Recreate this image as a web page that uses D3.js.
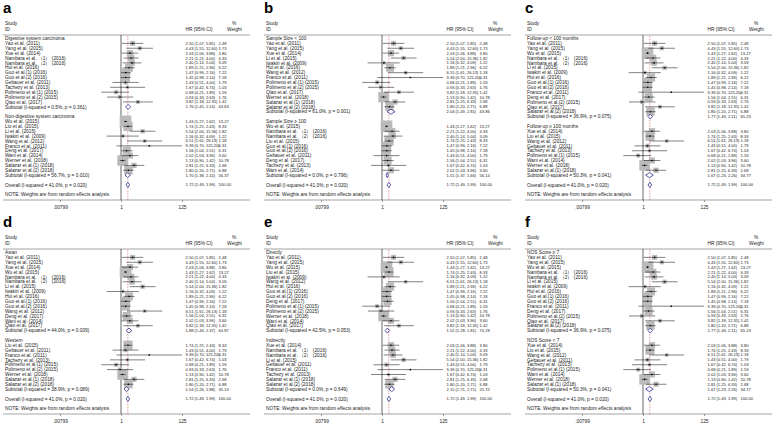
<!DOCTYPE html>
<html>
<head>
<meta charset="utf-8">
<script src="https://cdn.jsdelivr.net/npm/d3@7"></script>
<style>
  body { margin: 0; background: #fff; }
  svg { display: block; }
  text { font-family: "Liberation Sans", Arial, sans-serif; }
</style>
</head>
<body>
<script>
// study level data (same estimates appear in every panel)
const studyNames = [
  "Yao et al. (2011)", "Yang et al. (2015)", "Xue et al. (2014)",
  "Nambara et al. （1） (2016)", "Nambara et al. （2） (2016)", "Hui et al. (2016)",
  "Guo et al.(1) (2016)", "Guo et al.(2) (2016)", "Gebauer et al. (2011)",
  "Tachezy et al. (2013)", "Polimeno et al.(1) (2015)", "Polimeno et al.(2) (2015)",
  "Qiao et al. (2017)", "Wu et al. (2015)", "Liu et al. (2015)", "Li et al. (2015)",
  "Iwakiri et al. (2009)", "Wang et al. (2012)", "Franco et al. (2011)",
  "Deng et al. (2017)", "Wani et al. (2014)", "Werner et al. (2018)",
  "Salazar et al.(1) (2018)", "Salazar et al.(2) (2018)"
];
const hrVal  = [2.50, 4.43, 2.03, 2.21, 2.40, 1.89, 1.47, 1.45, 1.43, 1.67, 0.68, 0.93,
                3.82, 1.43, 1.74, 5.54, 1.16, 6.51, 9.39, 1.56, 2.02, 1.13, 2.81, 1.80];
const ciLow  = [1.07, 1.55, 1.06, 1.22, 1.14, 1.21, 0.99, 0.98, 0.51, 0.42, 0.21, 0.33,
                1.18, 1.27, 1.25, 2.00, 0.32, 1.61, 0.70, 1.04, 1.03, 0.90, 1.25, 1.20];
const ciHigh = [5.85, 12.60, 3.88, 4.00, 5.04, 2.96, 2.16, 2.14, 4.00, 6.74, 1.89, 2.63,
                12.35, 1.62, 2.43, 15.36, 4.09, 26.13, 125.20, 2.51, 3.96, 1.42, 6.33, 2.71];
const weights = [2.48, 1.73, 3.80, 4.33, 3.09, 6.22, 7.22, 7.18, 1.79, 1.03, 1.59, 1.76,
                 1.42, 13.27, 8.33, 1.82, 1.22, 1.18, 0.31, 6.31, 3.60, 10.78, 2.68, 6.88];

// panels and their subgroups
const panelLetters = ["a", "b", "c", "d", "e", "f"];
const groupLabels = [
  ["Digestive system carcinoma", "Non-digestive system carcinoma"],
  ["Sample Size < 100", "Sample Size ≥ 100"],
  ["Follow-up < 100 months", "Follow-up ≥ 100 months"],
  ["Asian", "Western"],
  ["Directly", "Indirectly"],
  ["NOS Score ≥ 7", "NOS Score < 7"]
];
const groupMembers = [
  [[0, 1, 2, 3, 4, 5, 6, 7, 8, 9, 10, 11, 12], [13, 14, 15, 16, 17, 18, 19, 20, 21, 22, 23]],
  [[0, 1, 2, 15, 16, 5, 17, 18, 10, 11, 12, 21, 22, 23], [13, 3, 4, 14, 6, 7, 8, 19, 9, 20]],
  [[0, 1, 13, 3, 4, 15, 16, 5, 6, 7, 18, 19, 11, 12, 23], [2, 14, 17, 8, 9, 10, 20, 21, 22]],
  [[0, 1, 2, 13, 3, 4, 15, 16, 5, 6, 7, 17, 19, 20, 12], [14, 8, 18, 9, 10, 11, 21, 22, 23]],
  [[0, 1, 13, 14, 16, 17, 5, 6, 7, 19, 10, 11, 21, 20, 12], [2, 3, 4, 15, 8, 18, 9, 22, 23]],
  [[0, 1, 13, 3, 4, 15, 16, 5, 6, 7, 18, 19, 11, 12, 23], [2, 14, 17, 8, 9, 10, 20, 21, 22]]
];
const subtotalText = [
  ["Subtotal  (I-squared = 0.5%, p = 0.361)", "Subtotal  (I-squared = 56.7%, p = 0.010)"],
  ["Subtotal  (I-squared = 61.0%, p = 0.001)", "Subtotal  (I-squared = 0.0%, p = 0.796)"],
  ["Subtotal  (I-squared = 36.9%, p = 0.075)", "Subtotal  (I-squared = 50.3%, p = 0.041)"],
  ["Subtotal  (I-squared = 44.0%, p = 0.039)", "Subtotal  (I-squared = 38.9%, p = 0.089)"],
  ["Subtotal  (I-squared = 42.5%, p = 0.053)", "Subtotal  (I-squared = 0.0%, p = 0.649)"],
  ["Subtotal  (I-squared = 36.9%, p = 0.075)", "Subtotal  (I-squared = 50.3%, p = 0.041)"]
];
const subtotalHR   = [[1.76, 1.70], [2.04, 1.51], [1.77, 1.67], [1.88, 1.54], [1.52, 2.15], [1.77, 1.67]];
const subtotalLow  = [[1.45, 1.38], [1.49, 1.37], [1.49, 1.23], [1.49, 1.26], [1.28, 1.71], [1.49, 1.23]];
const subtotalHigh = [[2.14, 2.10], [2.81, 1.66], [2.11, 2.26], [2.37, 1.88], [1.81, 2.71], [2.11, 2.26]];
const subtotalWt   = [[43.63, 56.37], [43.86, 56.14], [65.23, 34.77], [64.87, 35.13], [74.28, 25.72], [65.23, 34.77]];

const overallText = "Overall  (I-squared = 41.0%, p = 0.020)";
const overallHR = 1.72, overallLow = 1.49, overallHigh = 1.99, overallWt = 100.00;
const noteText = "NOTE: Weights are from random effects analysis";
const tickVals = [0.00799, 1, 125];
const tickLabels = [".00799", "1", "125"];

const W = 784, H = 427;
const svg = d3.select("body").append("svg").attr("width", W).attr("height", H);

const panelW = 261, panelH = 214;
const fs = 4.8;          // label text size
const fv = 4.05;         // value columns text size
const rowH = 4.88;
const f2 = d3.format(".2f");
const ciLabel = (h, l, u) => `${f2(h)} (${f2(l)}, ${f2(u)})`;

panelLetters.forEach((letter, p) => {
  const ox = (p % 3) * panelW;
  const oy = Math.floor(p / 3) * panelH;
  const g = svg.append("g").attr("transform", `translate(${ox},${oy})`);

  const x = d3.scaleLog().domain([tickVals[0], tickVals[2]]).range([60, 182]);
  const xc = v => x(Math.min(Math.max(v, tickVals[0]), tickVals[2]));

  // build rows
  const rows = [];
  groupLabels[p].forEach((lab, gi) => {
    rows.push({ type: "head", label: lab });
    groupMembers[p][gi].forEach(i => rows.push({
      type: "study", label: studyNames[i], hr: hrVal[i], lo: ciLow[i], hi: ciHigh[i], wt: weights[i]
    }));
    rows.push({ type: "sub", label: subtotalText[p][gi], hr: subtotalHR[p][gi],
      lo: subtotalLow[p][gi], hi: subtotalHigh[p][gi], wt: subtotalWt[p][gi] });
    rows.push({ type: "blank" });
  });
  rows.push({ type: "sub", label: overallText, hr: overallHR, lo: overallLow, hi: overallHigh, wt: overallWt });
  rows.push({ type: "blank" });
  rows.push({ type: "note", label: noteText });
  rows.forEach((r, i) => { r.i = i; });

  const y0 = 38.5;
  const yRow = i => y0 + i * rowH;
  const axisY = 200;
  const labX = 5;
  const hrX = 185.5, wtX = 218.5;

  // panel letter
  g.append("text").attr("x", 3).attr("y", 13).attr("font-size", 15).attr("font-weight", "bold")
    .attr("fill", "#000").text(letter);

  // headers
  const hdr = g.append("g").attr("font-size", fs).attr("fill", "#222");
  hdr.append("text").attr("x", labX).attr("y", 25).text("Study");
  hdr.append("text").attr("x", labX).attr("y", 30.5).text("ID");
  hdr.append("text").attr("x", hrX).attr("y", 30.5).text("HR (95% CI)");
  hdr.append("text").attr("x", 232).attr("y", 25).text("%");
  hdr.append("text").attr("x", 227).attr("y", 30.5).text("Weight");

  g.append("line").attr("x1", 3).attr("x2", 250).attr("y1", 35).attr("y2", 35)
    .attr("stroke", "#444").attr("stroke-width", 0.5);

  // null line and overall line
  g.append("line").attr("x1", x(1)).attr("x2", x(1)).attr("y1", 35).attr("y2", axisY)
    .attr("stroke", "#000").attr("stroke-width", 0.6);
  g.append("line").attr("x1", x(overallHR)).attr("x2", x(overallHR)).attr("y1", 36).attr("y2", axisY)
    .attr("stroke", "#d23c3c").attr("stroke-width", 0.5).attr("stroke-dasharray", "1.6,1.2");

  const studies = rows.filter(r => r.type === "study");
  const subs = rows.filter(r => r.type === "sub");

  // weight boxes
  const k = 3.2;
  g.append("g").attr("fill", "#bababa")
    .selectAll("rect").data(studies).join("rect")
      .attr("x", d => x(d.hr) - k * Math.sqrt(d.wt) / 2)
      .attr("y", d => yRow(d.i) - k * Math.sqrt(d.wt) / 2)
      .attr("width", d => k * Math.sqrt(d.wt))
      .attr("height", d => k * Math.sqrt(d.wt));

  // CI lines
  g.append("g").attr("stroke", "#000").attr("stroke-width", 0.5)
    .selectAll("line").data(studies).join("line")
      .attr("x1", d => xc(d.lo)).attr("x2", d => xc(d.hi))
      .attr("y1", d => yRow(d.i)).attr("y2", d => yRow(d.i));

  // point estimates
  g.append("g").attr("fill", "#000")
    .selectAll("circle").data(studies).join("circle")
      .attr("cx", d => x(d.hr)).attr("cy", d => yRow(d.i)).attr("r", 0.8);

  // pooled diamonds
  g.append("g").attr("fill", "#fff").attr("stroke", "#2e3192").attr("stroke-width", 0.8)
    .selectAll("path").data(subs).join("path")
      .attr("d", d => {
        const yy = yRow(d.i), h = 2.5;
        return `M${x(d.lo)},${yy}L${x(d.hr)},${yy - h}L${x(d.hi)},${yy}L${x(d.hr)},${yy + h}Z`;
      });

  // text columns
  const txt = g.append("g").attr("fill", "#222");
  txt.selectAll("text.lab").data(rows.filter(r => r.label))
    .join("text").attr("class", "lab").attr("font-size", fs)
      .attr("x", labX).attr("y", d => yRow(d.i) + 1.7).text(d => d.label);
  const valRows = rows.filter(r => r.type === "study" || r.type === "sub");
  txt.selectAll("text.hr").data(valRows).join("text").attr("class", "hr").attr("font-size", fv)
      .attr("x", hrX).attr("y", d => yRow(d.i) + 1.5).text(d => ciLabel(d.hr, d.lo, d.hi));
  txt.selectAll("text.wt").data(valRows).join("text").attr("class", "wt").attr("font-size", fv)
      .attr("x", wtX).attr("y", d => yRow(d.i) + 1.5).text(d => f2(d.wt));

  // axis
  g.append("line").attr("x1", 3).attr("x2", 250).attr("y1", axisY).attr("y2", axisY)
    .attr("stroke", "#444").attr("stroke-width", 0.5);
  const ax = g.append("g").attr("transform", `translate(0,${axisY})`)
    .call(d3.axisBottom(x).tickValues(tickVals).tickSize(2).tickFormat((d, i) => tickLabels[i]));
  ax.select(".domain").remove();
  ax.selectAll(".tick line").attr("stroke", "#444").attr("stroke-width", 0.5);
  ax.selectAll(".tick text").attr("font-size", fs).attr("fill", "#222").attr("dy", "0.9em")
    .attr("font-family", '"Liberation Sans", Arial, sans-serif');
});
</script>
</body>
</html>
